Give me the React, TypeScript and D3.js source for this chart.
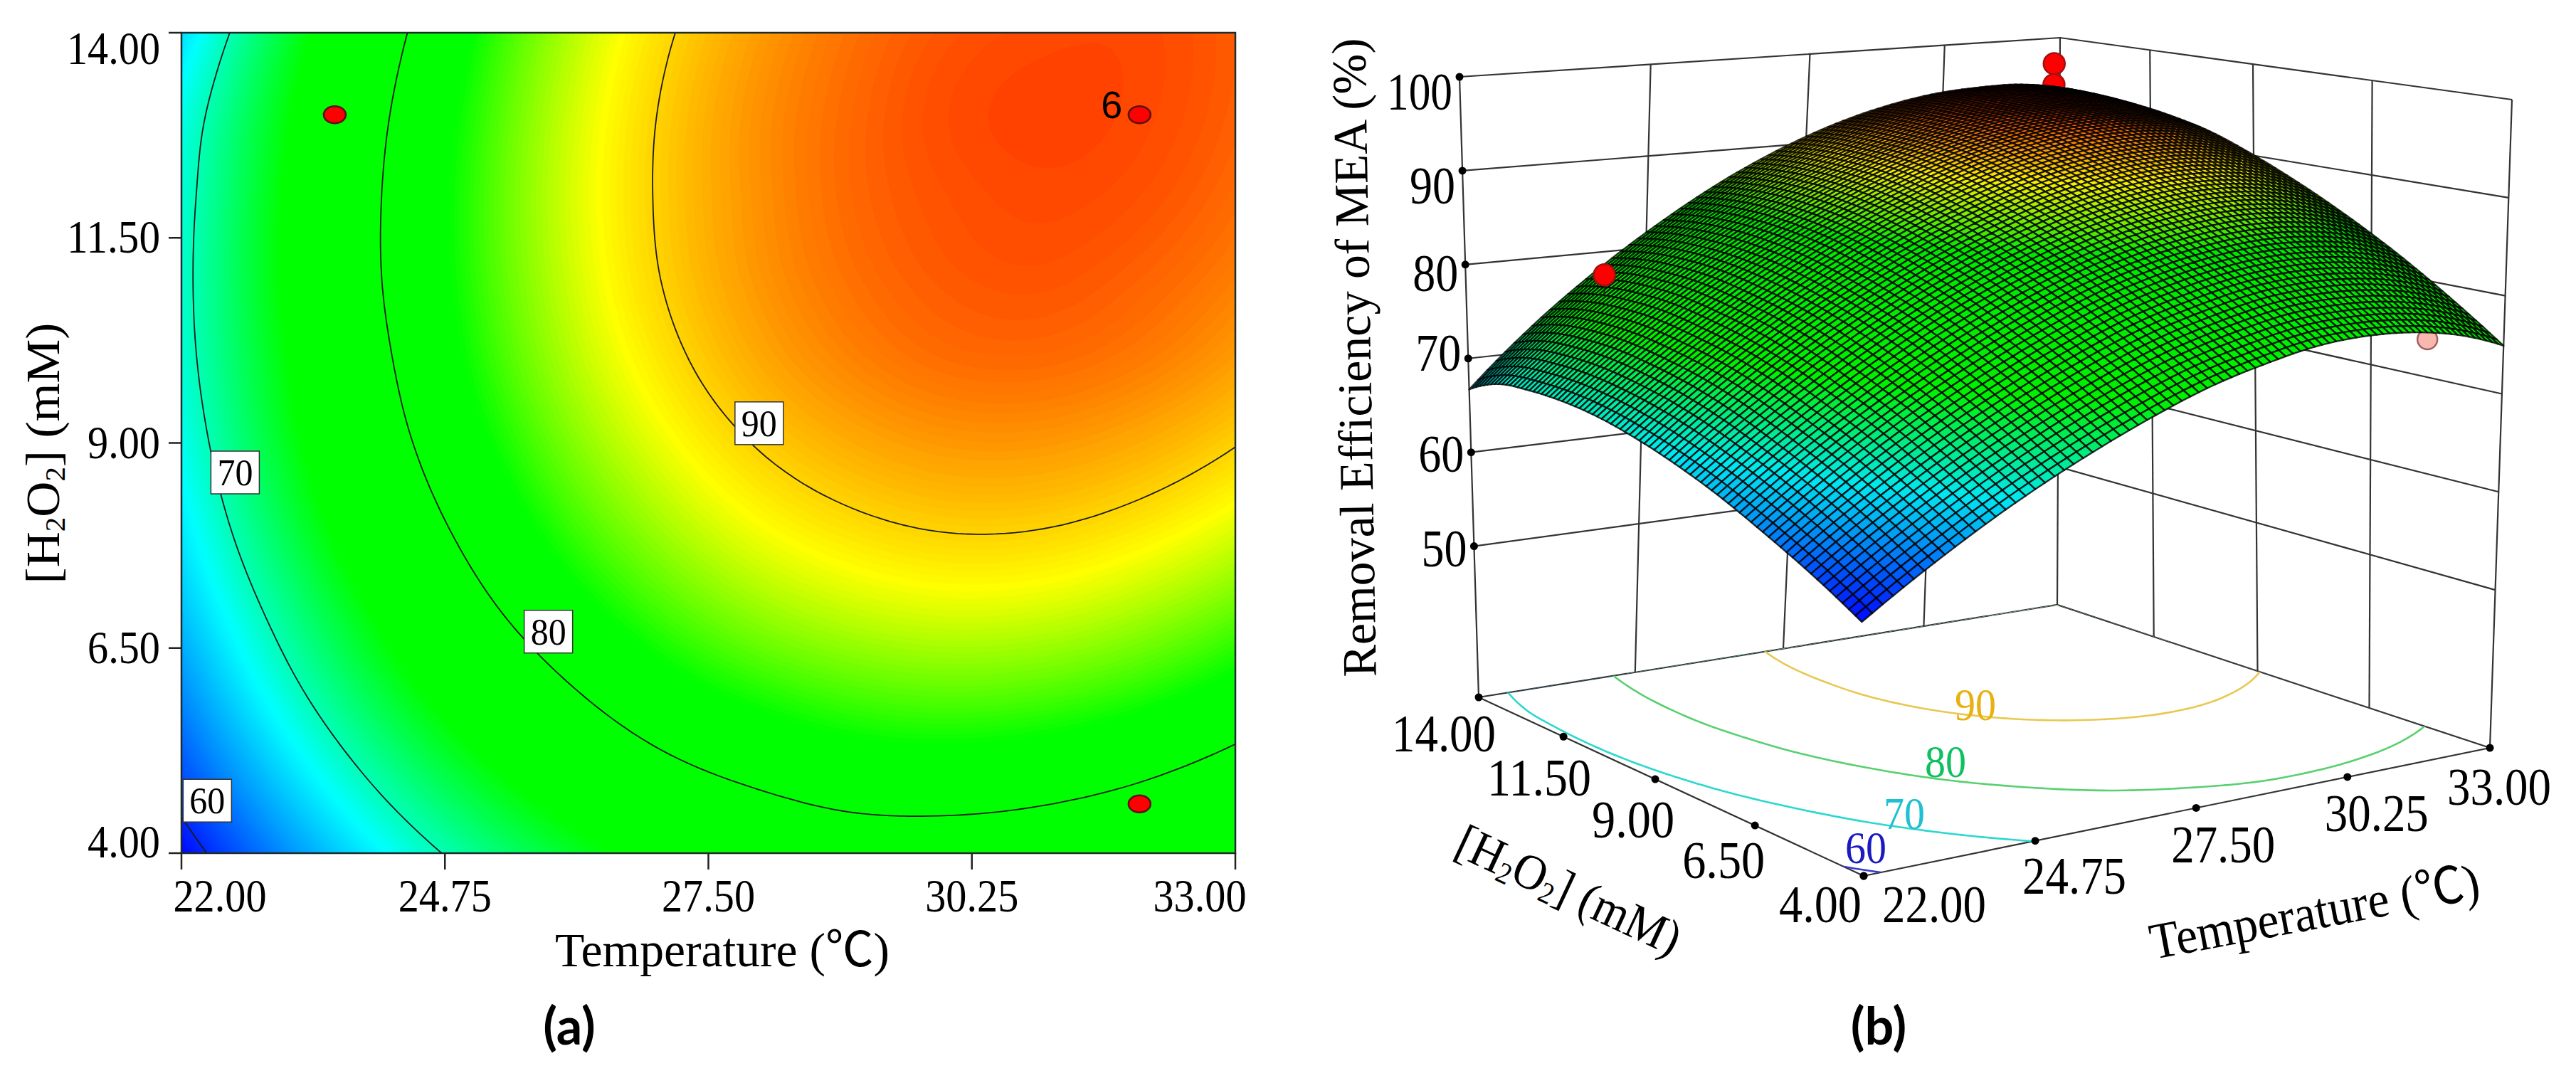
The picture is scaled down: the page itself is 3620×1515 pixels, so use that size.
import React, { useEffect, useRef } from "react";
import * as d3 from "d3";

// Values: removal efficiency (%) at each whole degree / whole mM.
const temperatures = [22, 23, 24, 25, 26, 27, 28, 29, 30, 31, 32, 33];
const h2o2Levels = [4, 5, 6, 7, 8, 9, 10, 11, 12, 13, 14];
const removalAt4 = [58.7, 63.4, 67.5, 70.9, 73.7, 75.9, 77.3, 78.2, 78.3, 77.8, 76.7, 74.9];
const removalAt5 = [61.5, 66.3, 70.5, 74.0, 76.9, 79.2, 80.7, 81.7, 81.9, 81.5, 80.5, 78.8];
const removalAt6 = [63.8, 68.8, 73.1, 76.7, 79.7, 82.1, 83.7, 84.7, 85.1, 84.8, 83.9, 82.3];
const removalAt7 = [65.8, 70.8, 75.2, 79.0, 82.1, 84.5, 86.3, 87.4, 87.9, 87.7, 86.8, 85.3];
const removalAt8 = [67.3, 72.5, 77.0, 80.8, 84.0, 86.5, 88.4, 89.6, 90.2, 90.1, 89.3, 87.9];
const removalAt9 = [68.4, 73.7, 78.3, 82.2, 85.5, 88.1, 90.1, 91.4, 92.1, 92.1, 91.4, 90.1];
const removalAt10 = [69.1, 74.4, 79.1, 83.2, 86.6, 89.3, 91.4, 92.8, 93.6, 93.7, 93.1, 91.9];
const removalAt11 = [69.3, 74.8, 79.6, 83.7, 87.2, 90.0, 92.1, 93.5, 94.3, 94.5, 94.0, 93.0];
const removalAt12 = [69.1, 74.7, 79.6, 83.8, 87.4, 90.2, 92.3, 93.8, 94.6, 94.9, 94.6, 93.7];
const removalAt13 = [68.5, 74.2, 79.2, 83.5, 87.2, 90.1, 92.3, 93.8, 94.8, 95.1, 94.9, 94.1];
const removalAt14 = [66.7, 73.0, 78.3, 82.8, 86.6, 89.6, 91.9, 93.5, 94.5, 94.9, 94.9, 94.2];

const temperatureTicks = [22, 24.75, 27.5, 30.25, 33];
const h2o2Ticks = [4, 6.5, 9, 11.5, 14];
const removalTicks = [50, 60, 70, 80, 90, 100];
const contourLevels = [60, 70, 80, 90];

const labelTemperatures = [22.27, 22.56, 25.83, 28.03];
const labelH2o2 = [4.64, 8.64, 6.7, 9.24];

const designTemperatures = [23.6, 32, 32];
const designH2o2 = [13, 13, 4.6];
const backPointRemovals = [97.9, 95.5];
const leftPointRemoval = 78.9;
const pinkPointRemoval = 75.6;

const SERIF = "'Liberation Serif', 'Noto Sans CJK SC', serif";

type Pt = [number, number];

// Catmull-Rom through the read values, only so the raster and mesh look smooth.
function sampleRemoval(t: number, h: number) {
  const rows = [removalAt4, removalAt5, removalAt6, removalAt7, removalAt8, removalAt9, removalAt10, removalAt11, removalAt12, removalAt13, removalAt14];
  const get = (i: number, j: number): number => {
    if (j < 0) return 3 * get(i, j + 1) - 3 * get(i, j + 2) + get(i, j + 3);
    if (j > 10) return 3 * get(i, j - 1) - 3 * get(i, j - 2) + get(i, j - 3);
    if (i < 0) return 3 * get(i + 1, j) - 3 * get(i + 2, j) + get(i + 3, j);
    if (i > 11) return 3 * get(i - 1, j) - 3 * get(i - 2, j) + get(i - 3, j);
    return rows[j][i];
  };
  const cr = (a: number, b: number, c: number, d: number, s: number) =>
    0.5 * (2 * b + (c - a) * s + (2 * a - 5 * b + 4 * c - d) * s * s + (3 * b - a - 3 * c + d) * s * s * s);
  const fi = Math.min(t - temperatures[0], temperatures.length - 1.0001);
  const fj = Math.min(h - h2o2Levels[0], h2o2Levels.length - 1.0001);
  const i = Math.floor(fi);
  const j = Math.floor(fj);
  const col = (k: number) => cr(get(k, j - 1), get(k, j), get(k, j + 1), get(k, j + 2), fj - j);
  return cr(col(i - 1), col(i), col(i + 1), col(i + 2), fi - i);
}

const colorScale = d3
  .scaleLinear<string>()
  .domain([58.5, 68, 75, 83, 88.5, 96.3])
  .range(["#0000ff", "#00ffff", "#00ff00", "#00ff00", "#ffff00", "#ff2000"])
  .clamp(true);

// the mesh reads a little greener than the flat map
const meshColor = d3
  .scaleLinear<string>()
  .domain([58.5, 68, 75, 85, 90, 95])
  .range(["#0000ff", "#00e8f0", "#00f000", "#00e800", "#f8f000", "#ff3000"])
  .clamp(true);

// square -> quad, used for the floor and the roof of the 3D box
function quadMap(p0: Pt, p1: Pt, p2: Pt, p3: Pt) {
  const dx1 = p1[0] - p2[0], dx2 = p3[0] - p2[0], sx = p0[0] - p1[0] + p2[0] - p3[0];
  const dy1 = p1[1] - p2[1], dy2 = p3[1] - p2[1], sy = p0[1] - p1[1] + p2[1] - p3[1];
  const den = dx1 * dy2 - dx2 * dy1;
  const g = (sx * dy2 - dx2 * sy) / den;
  const h = (dx1 * sy - sx * dy1) / den;
  const a = p1[0] - p0[0] + g * p1[0], b = p3[0] - p0[0] + h * p3[0];
  const d = p1[1] - p0[1] + g * p1[1], e = p3[1] - p0[1] + h * p3[1];
  return (u: number, v: number): Pt => {
    const q = g * u + h * v + 1;
    return [(a * u + b * v + p0[0]) / q, (d * u + e * v + p0[1]) / q];
  };
}

const App: React.FC = () => {
  const svgRef = useRef<SVGSVGElement | null>(null);

  useEffect(() => {
    const svg = d3.select(svgRef.current!);
    svg.selectAll("*").remove();

    const addText = (
      parent: any, str: string, x: number, y: number, size: number,
      opts: { anchor?: string; len?: number; rotate?: number; fill?: string; family?: string; weight?: string } = {}
    ) => {
      const t = parent.append("text")
        .attr("x", x).attr("y", y)
        .attr("font-family", opts.family || SERIF)
        .attr("font-size", size)
        .attr("font-weight", opts.weight || "normal")
        .attr("fill", opts.fill || "#000")
        .attr("text-anchor", opts.anchor || "middle")
        .text(str);
      if (opts.len) t.attr("textLength", opts.len).attr("lengthAdjust", "spacingAndGlyphs");
      if (opts.rotate) t.attr("transform", `rotate(${opts.rotate},${x},${y})`);
      return t;
    };
    const fmt = d3.format(".2f");

    // fine sample grid for contours (d3.contours puts sample i at i + 0.5)
    const nx = 111, ny = 101;
    const values: number[] = [];
    for (let j = 0; j < ny; j++) for (let i = 0; i < nx; i++) values.push(sampleRemoval(22 + (i * 11) / (nx - 1), 4 + (j * 10) / (ny - 1)));
    const contours = d3.contours().size([nx, ny]);
    const gridT = d3.scaleLinear().domain([0.5, nx - 0.5]).range([22, 33]);
    const gridH = d3.scaleLinear().domain([0.5, ny - 0.5]).range([4, 14]);

    /* ---------- panel (a) ---------- */
    const x = d3.scaleLinear().domain([22, 33]).range([255, 1736]);
    const y = d3.scaleLinear().domain([4, 14]).range([1199, 46]);
    svg.append("clipPath").attr("id", "plot-clip").append("rect")
      .attr("x", 255).attr("y", 46).attr("width", 1481).attr("height", 1153);
    const a = svg.append("g");
    const heat = a.append("g").attr("clip-path", "url(#plot-clip)");
    heat.append("rect").attr("x", 255).attr("y", 46).attr("width", 1481).attr("height", 1153).attr("fill", colorScale(58));
    const planPath = d3.geoPath(
      d3.geoTransform({
        point(px: number, py: number) {
          (this as any).stream.point(x(gridT(px)), y(gridH(py)));
        },
      })
    );
    d3.range(58, 96.2, 0.2).forEach((th) => {
      heat.append("path").attr("d", planPath(contours.contour(values, th) as any)).attr("fill", colorScale(th + 0.1));
    });
    contourLevels.forEach((th) => {
      heat.append("path").attr("d", planPath(contours.contour(values, th) as any))
        .attr("fill", "none").attr("stroke", "#1a1a1a").attr("stroke-width", 1.8);
    });

    a.append("rect").attr("x", 255).attr("y", 46).attr("width", 1481).attr("height", 1153)
      .attr("fill", "none").attr("stroke", "#1c2c2c").attr("stroke-width", 2.5);

    temperatureTicks.forEach((t) => {
      a.append("line").attr("x1", x(t)).attr("x2", x(t)).attr("y1", 1199).attr("y2", 1222).attr("stroke", "#222").attr("stroke-width", 2.5);
      const lx = t === 22 ? 309 : t === 33 ? 1686 : x(t);
      addText(a, fmt(t), lx, 1281, 65, { len: 131 });
    });
    h2o2Ticks.forEach((h) => {
      a.append("line").attr("x1", 237).attr("x2", 255).attr("y1", y(h)).attr("y2", y(h)).attr("stroke", "#222").attr("stroke-width", 2.5);
      const by = h === 14 ? 90 : h === 4 ? 1205 : y(h) + 21;
      const s = fmt(h);
      addText(a, s, 225, by, 65, { anchor: "end", len: s.length === 5 ? 131 : 102 });
    });

    addText(a, "Temperature (℃)", 1015, 1358, 68, { len: 470 });
    const yTitle = addText(a, "", 83, 637, 68, { rotate: -90, len: 367 });
    yTitle.append("tspan").text("[H");
    yTitle.append("tspan").attr("font-size", 40).attr("dy", 8).text("2");
    yTitle.append("tspan").attr("dy", -8).text("O");
    yTitle.append("tspan").attr("font-size", 40).attr("dy", 8).text("2");
    yTitle.append("tspan").attr("dy", -8).text("] (mM)");

    contourLevels.forEach((lv, i) => {
      const cx = x(labelTemperatures[i]), cy = y(labelH2o2[i]);
      a.append("rect").attr("x", cx - 34).attr("y", cy - 30).attr("width", 68).attr("height", 60)
        .attr("fill", "#fff").attr("stroke", "#333").attr("stroke-width", 1.5);
      addText(a, String(lv), cx, cy + 18, 52, { len: 50 });
    });

    designTemperatures.forEach((t, i) => {
      a.append("ellipse").attr("cx", x(t)).attr("cy", y(designH2o2[i])).attr("rx", 15.5).attr("ry", 12)
        .attr("fill", "#ff0000").attr("stroke", "#5a1010").attr("stroke-width", 2.5);
    });
    addText(a, "6", x(designTemperatures[1]) - 39, y(designH2o2[1]) + 5, 54, { family: "'Liberation Sans', sans-serif" });
    addText(a, "(a)", 800, 1468, 72, { family: "Lato, sans-serif", weight: "bold" });

    /* ---------- panel (b) ---------- */
    const zMin = 33.9;
    const zFrac = d3.scaleLinear().domain([zMin, 100]).range([0, 1]);
    const u = d3.scaleLinear().domain([22, 33]).range([0, 1]);
    const v = d3.scaleLinear().domain([4, 14]).range([0, 1]);
    const floorMap = quadMap([2619, 1231], [3499, 1051], [2891, 850], [2078, 980]);
    const roofMap = quadMap([2612, 280], [3530, 140], [2895, 53], [2051, 108]);
    const project = (t: number, h: number, z: number): Pt => {
      const f = floorMap(u(t), v(h));
      const r = roofMap(u(t), v(h));
      const w = zFrac(z);
      return [f[0] + (r[0] - f[0]) * w, f[1] + (r[1] - f[1]) * w];
    };
    const line = d3.line<Pt>();
    const b = svg.append("g");
    const wall = (pts: Pt[], width = 2.2) =>
      b.append("path").attr("d", line(pts)).attr("fill", "none").attr("stroke", "#333").attr("stroke-width", width);

    // back walls
    removalTicks.forEach((z) => wall([project(22, 14, z), project(33, 14, z), project(33, 4, z)]));
    temperatureTicks.forEach((t) => { if (t !== 22) wall([project(t, 14, zMin), project(t, 14, 100)]); });
    h2o2Ticks.forEach((h) => { if (h !== 14) wall([project(33, h, zMin), project(33, h, 100)]); });
    wall([project(22, 14, zMin), project(22, 14, 100)]);
    // floor
    wall([project(22, 4, zMin), project(33, 4, zMin), project(33, 14, zMin), project(22, 14, zMin), project(22, 4, zMin)]);

    // floor contours
    b.append("clipPath").attr("id", "floor-clip").append("path")
      .attr("d", line([project(22, 4, zMin), project(33, 4, zMin), project(33, 14, zMin), project(22, 14, zMin)]) + "Z");
    const floorPath = d3.geoPath(
      d3.geoTransform({
        point(px: number, py: number) {
          const p = project(gridT(px), gridH(py), zMin);
          (this as any).stream.point(p[0], p[1]);
        },
      })
    );
    const floorColors = ["#3a3ad0", "#2ad8d0", "#58d070", "#e8c850"];
    const floorTextColors = ["#1a1ac0", "#20c0d0", "#10c060", "#e8b010"];
    const floorTextAt: Pt[] = [[2622, 1213], [2676, 1165], [2734, 1092], [2776, 1012]];
    contourLevels.forEach((lv, i) => {
      b.append("path").attr("clip-path", "url(#floor-clip)").attr("d", floorPath(contours.contour(values, lv) as any))
        .attr("fill", "none").attr("stroke", floorColors[i]).attr("stroke-width", 2.6);
      addText(b, String(lv), floorTextAt[i][0], floorTextAt[i][1], 64, { fill: floorTextColors[i], len: 58 });
    });

    // points behind the surface
    const dot = (p: Pt, r: number, fill: string, stroke: string) =>
      b.append("circle").attr("cx", p[0]).attr("cy", p[1]).attr("r", r).attr("fill", fill).attr("stroke", stroke).attr("stroke-width", 2.5);
    backPointRemovals.forEach((z) => dot(project(designTemperatures[1], designH2o2[1], z), 15, "#ff0000", "#a01010"));
    dot(project(designTemperatures[2], designH2o2[2], pinkPointRemoval), 14, "#f8b8b0", "#a06060");

    // mesh, painted from the back corner to the front corner
    const N = 80;
    const tAt = d3.scaleLinear().domain([0, N]).range([22, 33]);
    const hAt = d3.scaleLinear().domain([0, N]).range([4, 14]);
    const mesh = b.append("g").attr("stroke", "#000").attr("stroke-opacity", 0.8).attr("stroke-width", 2.35).attr("stroke-linejoin", "round");
    for (let i = N - 1; i >= 0; i--) {
      for (let j = N - 1; j >= 0; j--) {
        const corners = [[i, j], [i + 1, j], [i + 1, j + 1], [i, j + 1]].map(([m, n]) => {
          const t = tAt(m), h = hAt(n);
          return project(t, h, sampleRemoval(t, h));
        }) as Pt[];
        const mid = sampleRemoval(tAt(i + 0.5), hAt(j + 0.5));
        mesh.append("path").attr("d", line(corners) + "Z").attr("fill", meshColor(mid));
      }
    }

    // point in front of the surface
    const leftPt = project(designTemperatures[0], designH2o2[0], leftPointRemoval);
    b.append("line").attr("x1", leftPt[0]).attr("x2", leftPt[0]).attr("y1", leftPt[1]).attr("y2", leftPt[1] + 28).attr("stroke", "#222").attr("stroke-width", 2);
    dot(leftPt, 15, "#ff0000", "#a01010");

    // axis dots and tick labels
    const tickDot = (p: Pt) => b.append("circle").attr("cx", p[0]).attr("cy", p[1]).attr("r", 5.5).attr("fill", "#000");
    const zLabelDy = [3, 2, -8, 12, 21, 21];
    removalTicks.forEach((z, i) => {
      const p = project(22, 14, z);
      tickDot(p);
      addText(b, String(z), p[0] - 10, p[1] + zLabelDy[i] + 25, 74, { anchor: "end", len: z === 100 ? 92 : 64 });
    });
    const hLabelOff: Pt[] = [[-61, 40], [-44, 49], [-31, 57], [-34, 58], [-49, 51]];
    h2o2Ticks.forEach((h, i) => {
      const p = project(22, h, zMin);
      tickDot(p);
      const s = fmt(h);
      addText(b, s, p[0] + hLabelOff[i][0], p[1] + hLabelOff[i][1] + 25, 74, { len: s.length === 5 ? 146 : 116 });
    });
    const tLabelOff: Pt[] = [[99, 40], [55, 49], [38, 52], [41, 51], [13, 55]];
    temperatureTicks.forEach((t, i) => {
      const p = project(t, 4, zMin);
      tickDot(p);
      addText(b, fmt(t), p[0] + tLabelOff[i][0], p[1] + tLabelOff[i][1] + 25, 74, { len: 146 });
    });

    addText(b, "Removal Efficiency of MEA (%)", 1926, 502, 68, { rotate: -91, len: 898 });
    addText(b, "Temperature (℃)", 3257, 1305, 72, { rotate: -10.6, len: 470 });
    const hTitle = addText(b, "", 2195, 1272, 70, { rotate: 25, len: 340 });
    hTitle.append("tspan").text("[H");
    hTitle.append("tspan").attr("font-size", 42).attr("dy", 8).text("2");
    hTitle.append("tspan").attr("dy", -8).text("O");
    hTitle.append("tspan").attr("font-size", 42).attr("dy", 8).text("2");
    hTitle.append("tspan").attr("dy", -8).text("] (mM)");
    addText(b, "(b)", 2640, 1468, 72, { family: "Lato, sans-serif", weight: "bold" });
  }, []);

  return <svg ref={svgRef} width={3620} height={1515} style={{ position: "absolute", left: 0, top: 0, background: "#fff" }} />;
};

export default App;
